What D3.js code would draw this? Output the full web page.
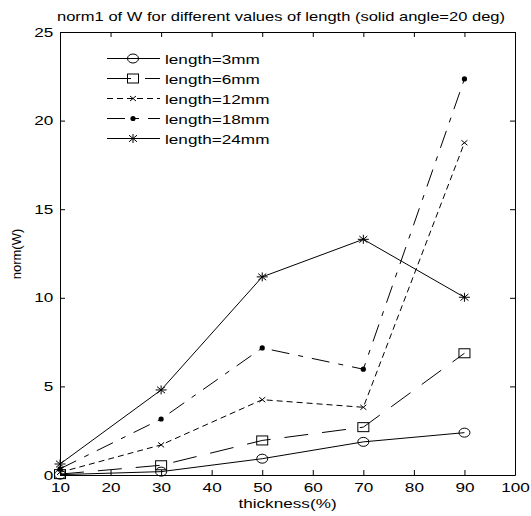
<!DOCTYPE html>
<html>
<head>
<meta charset="utf-8">
<script src="https://cdn.jsdelivr.net/npm/d3@7"></script>
<style>
  body { margin: 0; background: #fff; }
  svg { display: block; }
</style>
</head>
<body>
<script>
const overallWidth = 531
const overallHeight = 516
const margin = { left: 60, top: 32, right: 16, bottom: 41 }
const width = overallWidth - margin.left - margin.right
const height = overallHeight - margin.top - margin.bottom

// data
const thickness = [10, 30, 50, 70, 90]
const len3 = [0.02, 0.19, 0.92, 1.87, 2.39]
const len6 = [0.05, 0.55, 1.95, 2.7, 6.87]
const len12 = [0.15, 1.7, 4.25, 3.82, 18.75]
const len18 = [0.35, 3.16, 7.17, 5.97, 22.35]
const len24 = [0.62, 4.8, 11.18, 13.3, 10.03]
const seriesNames = ['length=3mm', 'length=6mm', 'length=12mm', 'length=18mm', 'length=24mm']
const xTicks = [10, 20, 30, 40, 50, 60, 70, 80, 90, 100]
const yTicks = [0, 5, 10, 15, 20, 25]

const styles = [
  { dash: null, marker: 'circle' },
  { dash: '24,14', marker: 'square' },
  { dash: '6,4', marker: 'cross' },
  { dash: '18,9,5,9', marker: 'dot' },
  { dash: null, marker: 'star' }
]
const seriesValues = [len3, len6, len12, len18, len24]

const font = 'Liberation Sans, Arial, sans-serif'
const fontSize = 13
const stretch = 'scale(1.32,1)' // the picture's text is wider than it is tall

const svg = d3.create('svg')
  .attr('width', overallWidth)
  .attr('height', overallHeight)
  .attr('xmlns', 'http://www.w3.org/2000/svg')

const g = svg.append('g').attr('transform', `translate(${margin.left},${margin.top})`)

const x = d3.scaleLinear().domain([10, 100]).range([0, width])
const y = d3.scaleLinear().domain([0, 25]).range([height, 0])

const markers = {
  circle: sel => sel.append('ellipse').attr('rx', 5.5).attr('ry', 4.5)
    .attr('fill', 'none').attr('stroke', '#000'),
  square: sel => sel.append('rect').attr('x', -5.5).attr('y', -4.5)
    .attr('width', 11).attr('height', 9)
    .attr('fill', 'none').attr('stroke', '#000'),
  cross: sel => sel.append('path').attr('d', 'M-3,-2.5L3,2.5M-3,2.5L3,-2.5')
    .attr('stroke', '#000'),
  dot: sel => sel.append('circle').attr('r', 2.6).attr('fill', '#000'),
  star: sel => sel.append('path')
    .attr('d', 'M-5.5,0L5.5,0M0,-4.5L0,4.5M-4,-3.3L4,3.3M-4,3.3L4,-3.3')
    .attr('stroke', '#000')
}

// axes with inward ticks on all four sides
const xAxis = g => g
  .attr('transform', `translate(0,${height})`)
  .call(d3.axisBottom(x).tickValues(xTicks).tickSize(-5).tickSizeOuter(0).tickPadding(8))
const xAxisTop = g => g
  .call(d3.axisTop(x).tickValues(xTicks).tickSize(-5).tickSizeOuter(0).tickFormat(''))
const yAxis = g => g
  .call(d3.axisLeft(y).tickValues(yTicks).tickSize(-5).tickSizeOuter(0).tickPadding(5))
const yAxisRight = g => g
  .attr('transform', `translate(${width},0)`)
  .call(d3.axisRight(y).tickValues(yTicks).tickSize(-5).tickSizeOuter(0).tickFormat(''))

g.append('g').call(xAxis)
g.append('g').call(xAxisTop)
g.append('g').call(yAxis)
g.append('g').call(yAxisRight)

g.selectAll('.domain, .tick line').attr('stroke', '#000')
g.selectAll('.tick text')
  .attr('font-family', font)
  .attr('font-size', fontSize)
  .attr('fill', '#000')
  .attr('transform', stretch)

const line = d3.line().x((d, i) => x(thickness[i])).y(d => y(d))

const series = g.append('g').attr('class', 'series')
  .selectAll('g')
  .data(seriesValues).enter()
  .append('g')

series.append('path')
  .attr('fill', 'none')
  .attr('stroke', '#000')
  .attr('stroke-width', 1)
  .attr('stroke-dasharray', (d, i) => styles[i].dash)
  .attr('d', d => line(d))

series.each((d, i, nodes) => {
  d3.select(nodes[i]).selectAll('g.pt')
    .data(d).enter()
    .append('g')
    .attr('class', 'pt')
    .attr('transform', (v, j) => `translate(${x(thickness[j])},${y(v)})`)
    .each((v, j, pts) => markers[styles[i].marker](d3.select(pts[j])))
})

// legend, no box
const legend = svg.append('g')
  .attr('class', 'legend')
  .selectAll('g')
  .data(seriesNames).enter()
  .append('g')
  .attr('transform', (d, i) => `translate(107,${58.5 + 20 * i})`)

legend.append('path')
  .attr('fill', 'none')
  .attr('stroke', '#000')
  .attr('stroke-dasharray', (d, i) => styles[i].dash)
  .attr('d', 'M0,0L53,0')

legend.each((d, i, nodes) => {
  const m = d3.select(nodes[i]).append('g').attr('transform', 'translate(26,0)')
  markers[styles[i].marker](m)
})

legend.append('text')
  .text(d => d)
  .attr('font-family', font)
  .attr('font-size', fontSize)
  .attr('transform', `translate(58,5) ${stretch}`)

svg.append('text')
  .text('norm1 of W for different values of length (solid angle=20 deg)')
  .attr('font-family', font)
  .attr('font-size', fontSize)
  .attr('text-anchor', 'middle')
  .attr('x', 281)
  .attr('y', 21)
  .attr('textLength', 448)
  .attr('lengthAdjust', 'spacingAndGlyphs')

svg.append('text')
  .text('thickness(%)')
  .attr('font-family', font)
  .attr('font-size', fontSize)
  .attr('text-anchor', 'middle')
  .attr('transform', `translate(${margin.left + width / 2},508) ${stretch}`)

svg.append('text')
  .text('norm(W)')
  .attr('font-family', font)
  .attr('font-size', fontSize)
  .attr('text-anchor', 'middle')
  .attr('transform', 'translate(21,254) rotate(-90)')

document.body.appendChild(svg.node())
</script>
</body>
</html>
